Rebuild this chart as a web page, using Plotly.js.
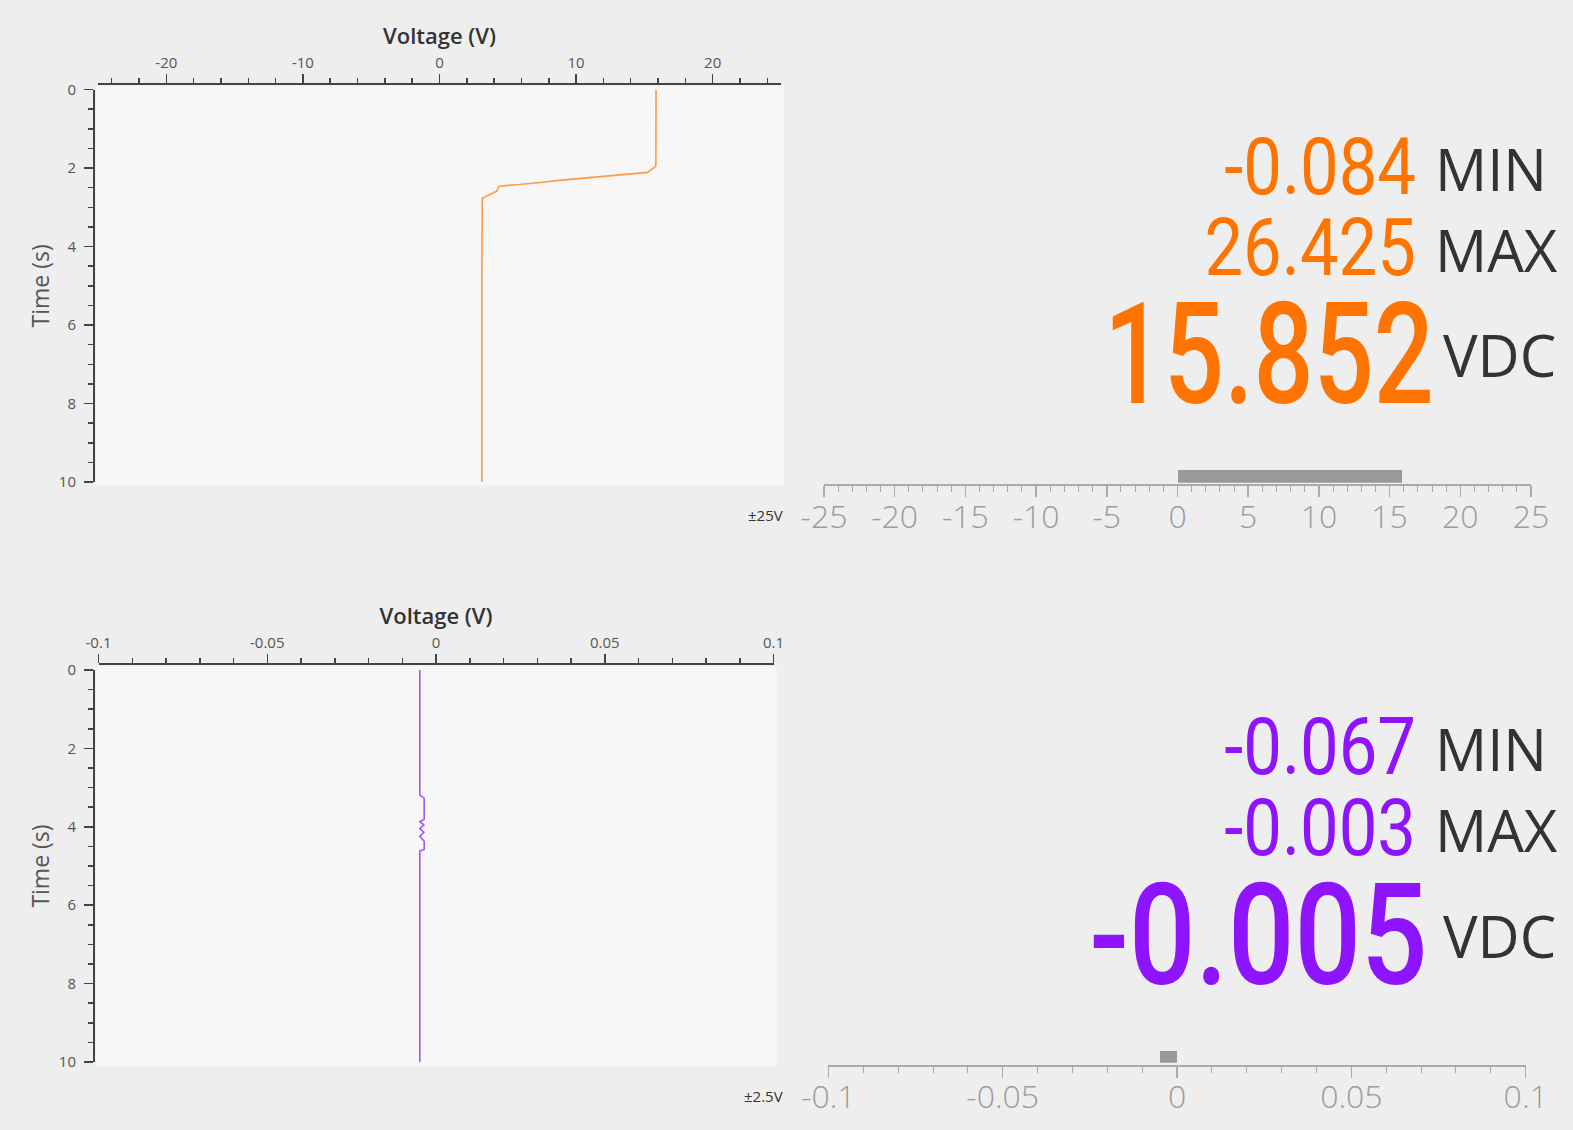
<!DOCTYPE html>
<html>
<head>
<meta charset="utf-8">
<script src="https://cdn.plot.ly/plotly-3.0.1.min.js"></script>
<style>
html,body{margin:0;padding:0;background:#eeeeee;}
#chart{width:1573px;height:1130px;}
/* seven-segment style readouts: narrow the digits around their right edge */
.annotation[data-index="0"] text.annotation-text,
.annotation[data-index="1"] text.annotation-text,
.annotation[data-index="6"] text.annotation-text,
.annotation[data-index="7"] text.annotation-text{
  transform: scaleX(0.86); transform-box: fill-box; transform-origin: 100% 50%;
}
.annotation[data-index="2"] text.annotation-text{
  transform: scaleX(0.75); transform-box: fill-box; transform-origin: 100% 50%;
}
.annotation[data-index="8"] text.annotation-text{
  transform: scaleX(0.83); transform-box: fill-box; transform-origin: 100% 50%;
}
</style>
</head>
<body>
<div id="chart"></div>
<script>
// ---- data ----
var timeTop = [0, 1.0, 1.95, 2.11, 2.14, 2.16, 2.19, 2.22, 2.25, 2.28, 2.32, 2.36, 2.40, 2.42, 2.44, 2.46, 2.58, 2.77, 5.0, 10];
var voltTop = [15.852, 15.85, 15.84, 15.23, 14.3, 13.25, 12.23, 11.25, 10.4, 9.66, 8.56, 7.58, 6.61, 5.82, 5.02, 4.34, 4.21, 3.13, 3.1, 3.1];

var timeBot = [0, 2.0, 3.19, 3.27, 3.81, 3.87, 3.95, 4.05, 4.14, 4.24, 4.37, 4.58, 4.62, 7.0, 10];
var voltBot = [-0.0048, -0.0048, -0.0048, -0.0035, -0.0035, -0.0048, -0.0036, -0.0048, -0.0036, -0.0048, -0.0035, -0.0035, -0.0048, -0.0048, -0.0048];

var minVals = [-0.084, -0.067];
var maxVals = [26.425, -0.003];
var curVals = [15.852, -0.005];
var rangeLabels = ['\u00b125V', '\u00b12.5V'];

var gaugeTopTicks = [-25, -20, -15, -10, -5, 0, 5, 10, 15, 20, 25];
var gaugeTopText = ['-25', '-20', '-15', '-10', '-5', '0', '5', '10', '15', '20', '25'];
var gaugeBotTicks = [-0.1, -0.05, 0, 0.05, 0.1];
var gaugeBotText = ['-0.1', '-0.05', '0', '0.05', '0.1'];
var plotTopTicks = [-20, -10, 0, 10, 20];
var plotTopText = ['-20', '-10', '0', '10', '20'];
var plotBotTicks = [-0.1, -0.05, 0, 0.05, 0.1];
var plotBotText = ['-0.1', '-0.05', '0', '0.05', '0.1'];
var timeTicks = [0, 2, 4, 6, 8, 10];

// ---- layout helpers ----
var W = 1573, H = 1130;
function px(x){ return x / W; }
function py(y){ return 1 - y / H; }

var ORANGE = '#ff7300', ORANGE_LINE = '#ff9a45';
var PURPLE = '#8f14fe', PURPLE_LINE = '#a855f7';
var AX = '#444444';
var SEG = 'Roboto, "Liberation Sans", sans-serif';
var SANS = '"Open Sans", "Noto Sans", sans-serif';

function plotX(domain, range, pos, tv, tt, minor, title){
  return {
    domain: domain, range: range, side: 'top', anchor: 'free', position: pos,
    showline: true, linecolor: AX, linewidth: 1.5, mirror: false,
    ticks: 'outside', ticklen: 9, tickwidth: 1.5, tickcolor: AX,
    tickvals: tv, ticktext: tt,
    minor: {ticks: 'outside', dtick: minor, tick0: 0, ticklen: 5, tickwidth: 1.5, tickcolor: AX, showgrid: false},
    showgrid: false, zeroline: false, fixedrange: true,
    tickfont: {family: SANS, size: 15, color: '#555555'},
    title: {text: title, font: {family: SANS, size: 22, color: '#333333', weight: 600}, standoff: 0}
  };
}
function plotY(domain, pos){
  return {
    domain: domain, range: [10, 0], anchor: 'free', position: pos,
    showline: true, linecolor: AX, linewidth: 1.5,
    ticks: 'outside', ticklen: 9, tickwidth: 1.5, tickcolor: AX,
    tickvals: timeTicks, ticklabelstandoff: 5,
    minor: {ticks: 'outside', dtick: 0.5, tick0: 0, ticklen: 5, tickwidth: 1.5, tickcolor: AX, showgrid: false},
    showgrid: false, zeroline: false, fixedrange: true,
    tickfont: {family: SANS, size: 15, color: '#555555'},
    title: {text: 'Time (s)', font: {family: SANS, size: 23, color: '#555555'}, standoff: 1}
  };
}
function gaugeX(domain, range, pos, tv, tt, minor){
  return {
    domain: domain, range: range, side: 'bottom', anchor: 'free', position: pos,
    showline: true, linecolor: '#aaaaaa', linewidth: 2,
    ticks: 'outside', ticklen: 11, tickwidth: 1.5, tickcolor: '#aaaaaa',
    tickvals: tv, ticktext: tt, ticklabelstandoff: -8,
    minor: {ticks: 'outside', dtick: minor, tick0: 0, ticklen: 6, tickwidth: 1, tickcolor: '#aaaaaa', showgrid: false},
    showgrid: false, zeroline: false, fixedrange: true,
    tickfont: {family: SANS, size: 32, color: '#9c9c9c', weight: 300}
  };
}
function gaugeY(domain){
  return {domain: domain, range: [-0.5, 0.5], visible: false, fixedrange: true};
}

var traces = [
  {type: 'scatter', mode: 'lines', x: voltTop, y: timeTop, xaxis: 'x', yaxis: 'y',
   line: {color: ORANGE_LINE, width: 1.6}, hoverinfo: 'skip'},
  {type: 'scatter', mode: 'lines', x: voltBot, y: timeBot, xaxis: 'x2', yaxis: 'y2',
   line: {color: PURPLE_LINE, width: 1.6}, hoverinfo: 'skip'},
  {type: 'bar', orientation: 'h', x: [curVals[0]], y: [0], base: 0, width: 1, xaxis: 'x3', yaxis: 'y3',
   marker: {color: '#999999', line: {width: 0}}, hoverinfo: 'skip'},
  {type: 'bar', orientation: 'h', x: [curVals[1]], y: [0], base: 0, width: 1, xaxis: 'x4', yaxis: 'y4',
   marker: {color: '#999999', line: {width: 0}}, hoverinfo: 'skip'}
];

function ann(text, xpx, ypx, xanchor, font){
  return {text: text, x: px(xpx), y: py(ypx), xref: 'paper', yref: 'paper',
          xanchor: xanchor, yanchor: 'middle', showarrow: false, borderpad: 0, font: font};
}

var annotations = [
  ann(minVals[0].toFixed(3), 1417, 167, 'right', {family: SEG, size: 80, color: ORANGE}),
  ann(maxVals[0].toFixed(3), 1417, 248, 'right', {family: SEG, size: 80, color: ORANGE}),
  ann(curVals[0].toFixed(3), 1435, 355, 'right', {family: SEG, size: 141, color: ORANGE, weight: 500}),
  ann('MIN', 1434, 168.5, 'left', {family: SANS, size: 58, color: '#333333'}),
  ann('MAX', 1434, 249, 'left', {family: SANS, size: 58, color: '#333333'}),
  ann('VDC', 1442, 355, 'left', {family: SANS, size: 58, color: '#333333'}),
  ann(minVals[1].toFixed(3), 1417, 747, 'right', {family: SEG, size: 80, color: PURPLE}),
  ann(maxVals[1].toFixed(3), 1417, 828, 'right', {family: SEG, size: 80, color: PURPLE}),
  ann(curVals[1].toFixed(3), 1429, 935, 'right', {family: SEG, size: 141, color: PURPLE, weight: 500}),
  ann('MIN', 1434, 748.5, 'left', {family: SANS, size: 58, color: '#333333'}),
  ann('MAX', 1434, 829, 'left', {family: SANS, size: 58, color: '#333333'}),
  ann('VDC', 1442, 935, 'left', {family: SANS, size: 58, color: '#333333'}),
  ann(rangeLabels[0], 784, 515, 'right', {family: SANS, size: 15, color: '#333333'}),
  ann(rangeLabels[1], 784, 1096, 'right', {family: SANS, size: 15, color: '#333333'})
];

var layout = {
  width: W, height: H,
  margin: {l: 0, r: 0, t: 0, b: 0},
  paper_bgcolor: '#eeeeee', plot_bgcolor: 'rgba(0,0,0,0)',
  showlegend: false, bargap: 0,
  font: {family: SANS},
  xaxis: plotX([px(98), px(781)], [-25, 25], py(83), plotTopTicks, plotTopText, 2, 'Voltage (V)'),
  yaxis: plotY([py(482), py(89.6)], px(93)),
  xaxis2: plotX([px(98.5), px(773.5)], [-0.1, 0.1], py(663), plotBotTicks, plotBotText, 0.01, 'Voltage (V)'),
  yaxis2: plotY([py(1062), py(670)], px(93)),
  xaxis3: gaugeX([px(824), px(1531)], [-25, 25], py(485.3), gaugeTopTicks, gaugeTopText, 1),
  yaxis3: gaugeY([py(482.7), py(470)]),
  xaxis4: gaugeX([px(828.4), px(1525.7)], [-0.1, 0.1], py(1065.7), gaugeBotTicks, gaugeBotText, 0.01),
  yaxis4: gaugeY([py(1062.7), py(1050.7)]),
  shapes: [
    {type: 'rect', xref: 'paper', yref: 'paper', x0: px(96), x1: px(784), y0: py(485.5), y1: py(86),
     fillcolor: '#f7f7f7', line: {width: 0}, layer: 'below'},
    {type: 'rect', xref: 'paper', yref: 'paper', x0: px(96), x1: px(776.5), y0: py(1066), y1: py(666.5),
     fillcolor: '#f7f7f7', line: {width: 0}, layer: 'below'}
  ],
  annotations: annotations
};

Plotly.newPlot('chart', traces, layout, {staticPlot: true, displayModeBar: false});
</script>
</body>
</html>
